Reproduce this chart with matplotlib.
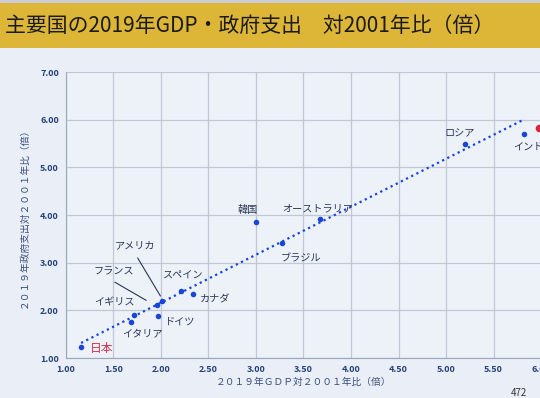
import numpy as np
import matplotlib.pyplot as plt
from matplotlib.patches import Rectangle

plt.rcParams['font.family'] = ['Noto Sans CJK JP', 'DejaVu Sans']

# 国名とデータ (GDP比, 政府支出比)
countries = ['日本', 'イタリア', 'イギリス', 'ドイツ', 'フランス', 'アメリカ', 'スペイン',
             'カナダ', '韓国', 'ブラジル', 'オーストラリア', 'ロシア', 'インド']
gdp_ratio = [1.16, 1.69, 1.72, 1.97, 1.96, 2.01, 2.21, 2.34, 3.00, 3.27, 3.67, 5.20, 5.82]
gov_ratio = [1.23, 1.75, 1.90, 1.88, 2.11, 2.20, 2.40, 2.34, 3.85, 3.41, 3.91, 5.49, 5.70]

# 右端で切れている赤い点
edge_x = [5.98]
edge_y = [5.82]

# ラベルの位置 (offset points)
label_offsets = {
    '日本': (6, -1), 'イタリア': (-7, -8), 'イギリス': (-29, 9), 'ドイツ': (5, -4),
    'フランス': (-46, 24), 'アメリカ': (-34, 40), 'スペイン': (-13, 11), 'カナダ': (5, -4),
    '韓国': (-13, 9), 'ブラジル': (-1, -11), 'オーストラリア': (-27, 8),
    'ロシア': (-15, 8), 'インド': (-8, -9),
}

navy = '#2b3656'
blue = '#1746d8'

fig = plt.figure(figsize=(5.4, 3.98), dpi=100)
fig.patch.set_facecolor('#e9eef7')

# タイトルバー
fig.patches.append(Rectangle((0, 0.880), 1, 0.113, transform=fig.transFigure,
                             facecolor='#ddb638', edgecolor='none', zorder=0))
fig.patches.append(Rectangle((0, 0.993), 1, 0.01, transform=fig.transFigure,
                             facecolor='#c9cdd3', edgecolor='none', zorder=0))
fig.text(0.010, 0.934, '主要国の2019年GDP・政府支出　対2001年比（倍）',
         fontsize=15, color='#1a1a1a', va='center', ha='left')

ax = fig.add_axes([0.122, 0.1005, 0.880, 0.7185])
ax.set_facecolor('#edf1f8')

# 近似直線
coef = np.polyfit(gdp_ratio, gov_ratio, 1)
tx = np.array([min(gdp_ratio), max(gdp_ratio)])
ax.plot(tx, np.polyval(coef, tx), linestyle=(0, (1, 1.6)), color=blue, linewidth=1.6, zorder=2)

ax.scatter(gdp_ratio, gov_ratio, s=16, color=blue, zorder=3, linewidths=0)
ax.scatter(edge_x, edge_y, s=30, color='#d8263a', zorder=3, linewidths=0, clip_on=False)

for name, x, y in zip(countries, gdp_ratio, gov_ratio):
    if name == '日本':
        ax.annotate(name, xy=(x, y), xytext=label_offsets[name], textcoords='offset points',
                    fontsize=8.5, color='#d0304a', va='center', ha='left')
    else:
        ax.annotate(name, xy=(x, y), xytext=label_offsets[name], textcoords='offset points',
                    fontsize=7.3, color=navy, va='center', ha='left')

# 引き出し線
ax.annotate('', xy=(2.01, 2.25), xytext=(1.74, 3.15),
            arrowprops=dict(arrowstyle='-', color=navy, lw=0.8))
ax.annotate('', xy=(1.87, 2.18), xytext=(1.49, 2.62),
            arrowprops=dict(arrowstyle='-', color=navy, lw=0.8))

ax.set_xlim(1, 6)
ax.set_ylim(1, 7)
ax.set_xticks(np.arange(1, 6.01, 0.5))
ax.set_yticks(np.arange(1, 7.01, 1))
ax.xaxis.set_major_formatter(plt.FormatStrFormatter('%.2f'))
ax.yaxis.set_major_formatter(plt.FormatStrFormatter('%.2f'))
ax.tick_params(length=0, labelsize=6.5, labelcolor='#24407a', pad=5)
for lbl in ax.get_xticklabels() + ax.get_yticklabels():
    lbl.set_fontweight('bold')
ax.grid(True, color='#c2c8d2', linewidth=0.9)
ax.set_axisbelow(True)
for side in ['top', 'right']:
    ax.spines[side].set_visible(False)
for side in ['left', 'bottom']:
    ax.spines[side].set_color('#9aa6ba')

ax.set_xlabel('２０１９年ＧＤＰ対２００１年比（倍）',
              fontsize=7, color='#3a4f7a', labelpad=2)
ax.set_ylabel('２０１９年政府支出対２００１年比（倍）',
              fontsize=7, color='#3a4f7a', labelpad=8)

fig.text(0.96, 0.0, '472', fontsize=7, color='#333333', ha='center', va='bottom')

fig.savefig('out.png', dpi=100, facecolor=fig.get_facecolor())
